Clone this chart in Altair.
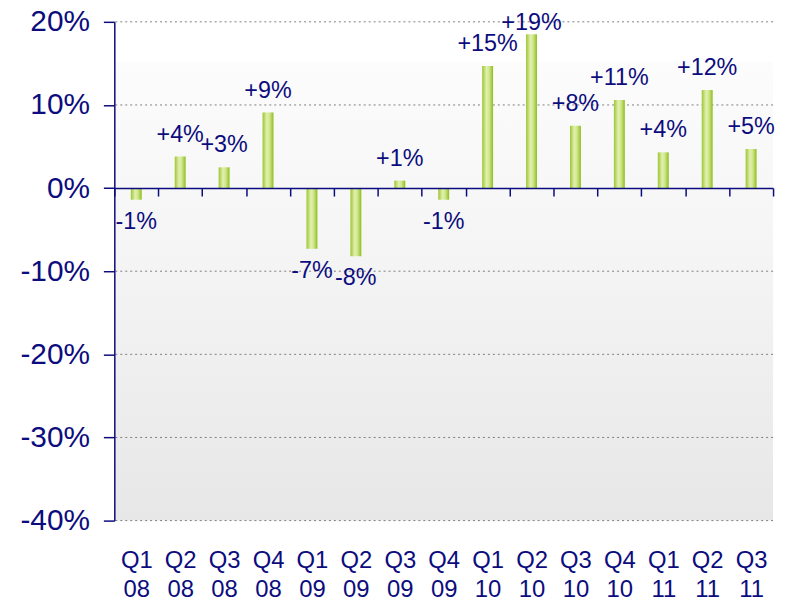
import altair as alt
import pandas as pd

quarters = ["Q1 08", "Q2 08", "Q3 08", "Q4 08", "Q1 09", "Q2 09", "Q3 09", "Q4 09",
            "Q1 10", "Q2 10", "Q3 10", "Q4 10", "Q1 11", "Q2 11", "Q3 11"]
values_pct = [-1.4, 3.8, 2.5, 9.1, -7.3, -8.2, 0.9, -1.4, 14.7, 18.5, 7.5, 10.6, 4.3, 11.8, 4.7]
labels = ["-1%", "+4%", "+3%", "+9%", "-7%", "-8%", "+1%", "-1%",
          "+15%", "+19%", "+8%", "+11%", "+4%", "+12%", "+5%"]
y_ticks = [0.2, 0.1, 0.0, -0.1, -0.2, -0.3, -0.4]

NAVY = "#0C0C7E"
FONT = "Liberation Sans"
W, H = 663, 502

df = pd.DataFrame({"q": quarters, "v": [v / 100 for v in values_pct], "lab": labels})
grid_df = pd.DataFrame({"g": [t for t in y_ticks if t != 0]})
bg_df = pd.DataFrame({"top": [0.152], "bottom": [-0.4]})

yscale = alt.Scale(domain=[-0.4, 0.2], nice=False, zero=False)
xscale = alt.Scale(paddingInner=0, paddingOuter=0)

x_axis = alt.Axis(
    orient="bottom", offset=-(H * 2 / 3), domainColor=NAVY, domainWidth=1.5,
    tickColor=NAVY, tickSize=8, tickWidth=1.5, tickBand="extent", labelAngle=0,
    labelFont=FONT, labelFontSize=24, labelColor=NAVY, labelPadding=355,
    labelExpr="split(datum.label, ' ')", labelLineHeight=29, title=None,
    grid=False, zindex=1,
)
y_axis = alt.Axis(
    values=y_ticks,
    labelExpr="(datum.value < 0 ? '-' : '') + format(abs(datum.value) * 100, '.0f') + '%'",
    labelFont=FONT, labelFontSize=30, labelColor=NAVY, labelPadding=14,
    tickColor=NAVY, tickSize=11, tickWidth=1.5, domainColor=NAVY, domainWidth=1.5,
    grid=False, title=None, zindex=1,
)

bg_grad = alt.Gradient(
    gradient="linear", x1=0, x2=0, y1=0, y2=1,
    stops=[alt.GradientStop(color="#FCFCFC", offset=0),
           alt.GradientStop(color="#F4F4F4", offset=0.45),
           alt.GradientStop(color="#E7E7E7", offset=1)],
)
bar_grad = alt.Gradient(
    gradient="linear", x1=0, x2=1, y1=0, y2=0,
    stops=[alt.GradientStop(color="#9CC630", offset=0),
           alt.GradientStop(color="#E2F0B0", offset=0.4),
           alt.GradientStop(color="#D0E68C", offset=0.65),
           alt.GradientStop(color="#8DBE1C", offset=1)],
)

background = alt.Chart(bg_df).mark_rect(color=bg_grad).encode(
    y=alt.Y("top:Q", scale=yscale, axis=y_axis),
    y2="bottom:Q",
    x=alt.value(0), x2=alt.value(W),
)

grid = alt.Chart(grid_df).mark_rule(color="#7F7F7F", strokeDash=[2, 3], strokeWidth=1).encode(
    y=alt.Y("g:Q", scale=yscale, axis=y_axis)
)

xenc = alt.X("q:N", sort=quarters, scale=xscale, axis=x_axis)

bars = alt.Chart(df).mark_bar(size=11, color=bar_grad).encode(
    x=xenc,
    y=alt.Y("v:Q", scale=yscale, axis=y_axis, stack=None),
)

# keep the top label inside the chart (labels never rise above the top band)
pos_text = alt.Chart(df).transform_filter("datum.v >= 0").transform_calculate(
    ylab="min(datum.v, 0.172)"
).mark_text(
    baseline="alphabetic", dy=-15, fontSize=23.5, font=FONT, color=NAVY
).encode(x=xenc, y=alt.Y("ylab:Q", scale=yscale, axis=y_axis), text="lab:N")

neg_text = alt.Chart(df).transform_filter("datum.v < 0").mark_text(
    baseline="alphabetic", dy=29, fontSize=23.5, font=FONT, color=NAVY
).encode(x=xenc, y=alt.Y("v:Q", scale=yscale, axis=y_axis), text="lab:N")

chart = alt.layer(background, grid, bars, pos_text, neg_text).properties(
    width=W, height=H,
    autosize=alt.AutoSizeParams(type="none"),
    padding={"left": 107, "top": 12, "right": 10, "bottom": 80},
    background="white",
).configure_view(stroke=None)

chart.save("out.html", embed_options={"renderer": "svg", "actions": False})
